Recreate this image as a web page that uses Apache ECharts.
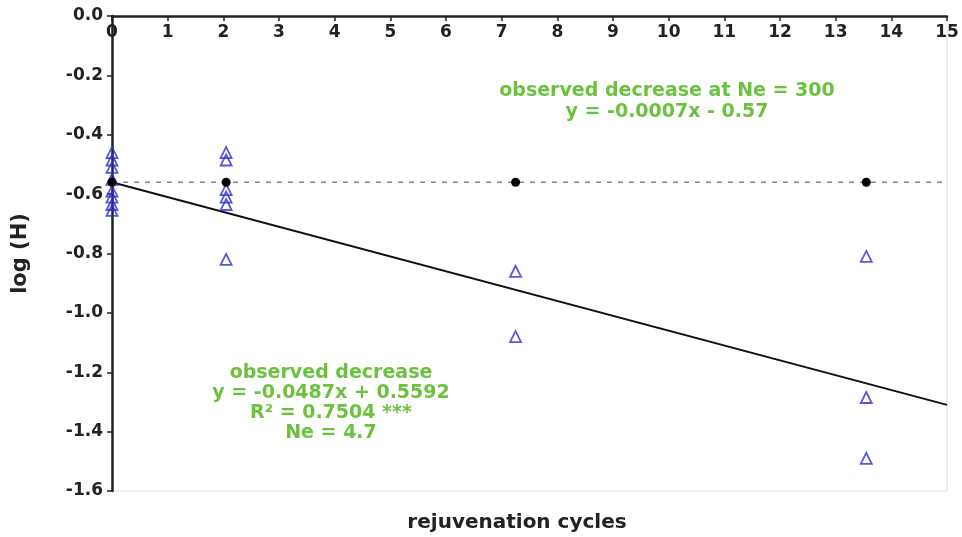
<!DOCTYPE html>
<html>
<head>
<meta charset="utf-8">
<script src="https://cdn.jsdelivr.net/npm/echarts@6/dist/echarts.min.js"></script>
<style>
  html, body { margin: 0; padding: 0; background: #fff; }
  #main { width: 962px; height: 537px; }
</style>
</head>
<body>
<div id="main"></div>
<script>
// observed log(H) per rejuvenation cycle (open triangles)
var obsCycles = [0, 0, 0, 0, 0, 0, 0, 0,
                 2.05, 2.05, 2.05, 2.05, 2.05, 2.05,
                 7.25, 7.25,
                 13.55, 13.55, 13.55];
var obsLogH = [-0.46, -0.485, -0.51, -0.55, -0.59, -0.61, -0.635, -0.655,
               -0.46, -0.485, -0.585, -0.61, -0.635, -0.82,
               -0.86, -1.08,
               -0.81, -1.285, -1.49];

// expected at Ne = 300 (black dots)
var expCycles = [0, 2.05, 7.25, 13.55];
var expLogH = [-0.56, -0.56, -0.56, -0.56];

// fitted lines (end points)
var fitX = [0, 15];
var fitObs = [-0.56, -1.31];
var fitNe300 = [-0.56, -0.56];

var xTicks = [0, 15, 1];
var yTicks = [-1.6, 0, 0.2];

function pairs(xs, ys) {
    var out = [];
    for (var i = 0; i < xs.length; i++) {
        out.push([xs[i], ys[i]]);
    }
    return out;
}

var green = '#6cc23f';
var font = '"DejaVu Sans", Verdana, sans-serif';

var myChart = echarts.init(document.getElementById('main'));
myChart.setOption({
    animation: false,
    backgroundColor: '#fff',
    grid: {
        left: 112,
        right: 15,
        top: 16,
        bottom: 46,
        show: true,
        borderColor: '#e2e2e2',
        borderWidth: 1
    },
    xAxis: {
        type: 'value',
        position: 'top',
        min: xTicks[0],
        max: xTicks[1],
        interval: xTicks[2],
        axisLine: { lineStyle: { color: '#222', width: 2.5 } },
        axisTick: { inside: true, length: 5, lineStyle: { color: '#222', width: 1.5 } },
        axisLabel: {
            inside: true, margin: 8, verticalAlign: 'top',
            fontFamily: font, fontWeight: 'bold', fontSize: 17, color: '#222'
        },
        splitLine: { show: false }
    },
    yAxis: {
        type: 'value',
        min: yTicks[0],
        max: yTicks[1],
        interval: yTicks[2],
        name: 'log (H)',
        nameLocation: 'middle',
        nameGap: 81,
        nameRotate: 90,
        nameTextStyle: { fontFamily: font, fontWeight: 'bold', fontSize: 21, color: '#222' },
        axisLine: { show: true, lineStyle: { color: '#222', width: 2.5 } },
        axisTick: { show: true, length: 5, lineStyle: { color: '#222', width: 1.5 } },
        axisLabel: {
            margin: 9,
            fontFamily: font, fontWeight: 'bold', fontSize: 17, color: '#222',
            formatter: function (v) { return v.toFixed(1); }
        },
        splitLine: { show: false }
    },
    series: [
        {
            name: 'Ne 300',
            type: 'line',
            data: pairs(fitX, fitNe300),
            symbol: 'none',
            lineStyle: { color: '#888', width: 1.5, type: [5, 6] },
            z: 1
        },
        {
            name: 'fit',
            type: 'line',
            data: pairs(fitX, fitObs),
            symbol: 'none',
            lineStyle: { color: '#111', width: 2 },
            z: 2
        },
        {
            name: 'observed',
            type: 'scatter',
            data: pairs(obsCycles, obsLogH),
            symbol: 'triangle',
            symbolSize: 11,
            itemStyle: { color: 'rgba(255,255,255,0)', borderColor: '#3030cc', borderWidth: 1.8 },
            z: 3
        },
        {
            name: 'expected',
            type: 'scatter',
            data: pairs(expCycles, expLogH),
            symbol: 'circle',
            symbolSize: 9,
            itemStyle: { color: '#000', opacity: 1 },
            z: 4
        }
    ],
    graphic: [
        {
            type: 'text',
            x: 667, y: 102,
            style: {
                text: 'observed decrease at Ne = 300\ny = -0.0007x - 0.57',
                textAlign: 'center',
                textVerticalAlign: 'middle',
                fill: green,
                font: 'bold 19px ' + font,
                lineHeight: 21
            }
        },
        {
            type: 'text',
            x: 331, y: 363,
            style: {
                text: 'observed decrease\ny = -0.0487x + 0.5592\nR\u00b2 = 0.7504 ***\nNe = 4.7',
                textAlign: 'center',
                textVerticalAlign: 'top',
                fill: green,
                font: 'bold 19px ' + font,
                lineHeight: 20
            }
        },
        {
            type: 'text',
            x: 517, y: 523,
            style: {
                text: 'rejuvenation cycles',
                textAlign: 'center',
                textVerticalAlign: 'middle',
                fill: '#222',
                font: 'bold 20px ' + font
            }
        }
    ]
});
</script>
</body>
</html>
